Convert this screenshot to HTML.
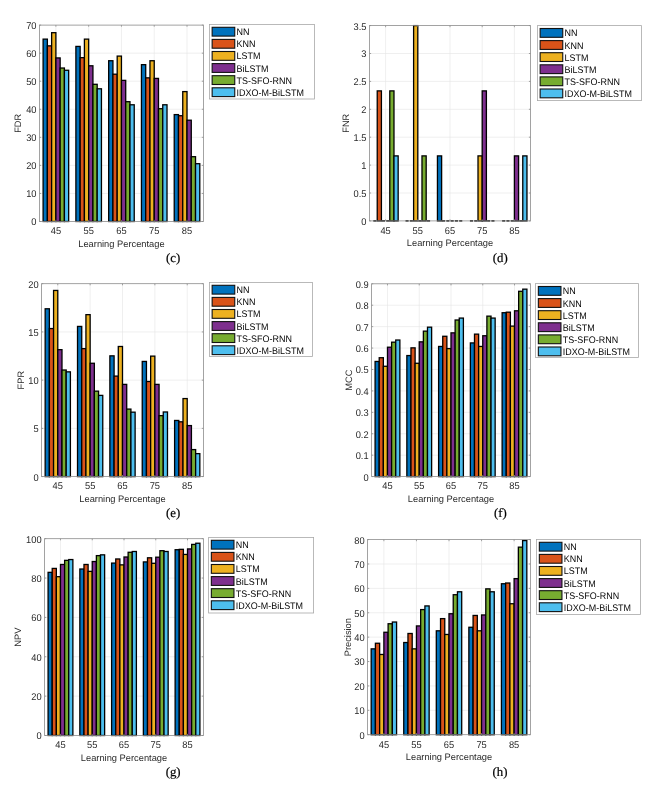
<!DOCTYPE html>
<html><head><meta charset="utf-8"><title>Figure</title>
<style>
html,body{margin:0;padding:0;background:#fff;}
body{width:655px;height:790px;overflow:hidden;}
svg{display:block;filter:blur(0.4px);}
text{text-rendering:geometricPrecision;}
.tk{font-family:"Liberation Sans",sans-serif;font-size:9.8px;fill:#2a2a2a;}
.lab{font-family:"Liberation Sans",sans-serif;font-size:9.3px;fill:#2a2a2a;}
.lg{font-family:"Liberation Sans",sans-serif;font-size:9.6px;fill:#050505;}
.cap{font-family:"Liberation Serif",serif;font-size:12.8px;fill:#000;stroke:#000;stroke-width:0.2px;}
</style></head>
<body>
<svg width="655" height="790" viewBox="0 0 655 790">
<rect width="655" height="790" fill="#fff"/>
<path d="M39.5 193.44H203.4M39.5 165.39H203.4M39.5 137.33H203.4M39.5 109.27H203.4M39.5 81.21H203.4M39.5 53.16H203.4M55.89 25.1V221.5M88.67 25.1V221.5M121.45 25.1V221.5M154.23 25.1V221.5M187.01 25.1V221.5" stroke="#e4e4e4" stroke-width="0.6" fill="none"/>
<rect x="43.11" y="39.13" width="4.26" height="182.37" fill="#0072BD" stroke="#000" stroke-width="1.3"/>
<rect x="47.37" y="45.86" width="4.26" height="175.64" fill="#D95319" stroke="#000" stroke-width="1.3"/>
<rect x="51.63" y="32.68" width="4.26" height="188.82" fill="#EDB120" stroke="#000" stroke-width="1.3"/>
<rect x="55.89" y="57.93" width="4.26" height="163.57" fill="#7E2F8E" stroke="#000" stroke-width="1.3"/>
<rect x="60.15" y="68.03" width="4.26" height="153.47" fill="#77AC30" stroke="#000" stroke-width="1.3"/>
<rect x="64.41" y="70.27" width="4.26" height="151.23" fill="#4DBEEE" stroke="#000" stroke-width="1.3"/>
<rect x="75.89" y="46.42" width="4.26" height="175.08" fill="#0072BD" stroke="#000" stroke-width="1.3"/>
<rect x="80.15" y="57.65" width="4.26" height="163.85" fill="#D95319" stroke="#000" stroke-width="1.3"/>
<rect x="84.41" y="39.13" width="4.26" height="182.37" fill="#EDB120" stroke="#000" stroke-width="1.3"/>
<rect x="88.67" y="65.78" width="4.26" height="155.72" fill="#7E2F8E" stroke="#000" stroke-width="1.3"/>
<rect x="92.93" y="84.3" width="4.26" height="137.2" fill="#77AC30" stroke="#000" stroke-width="1.3"/>
<rect x="97.19" y="88.79" width="4.26" height="132.71" fill="#4DBEEE" stroke="#000" stroke-width="1.3"/>
<rect x="108.67" y="60.73" width="4.26" height="160.77" fill="#0072BD" stroke="#000" stroke-width="1.3"/>
<rect x="112.93" y="74.2" width="4.26" height="147.3" fill="#D95319" stroke="#000" stroke-width="1.3"/>
<rect x="117.19" y="56.1" width="4.26" height="165.4" fill="#EDB120" stroke="#000" stroke-width="1.3"/>
<rect x="121.45" y="80.37" width="4.26" height="141.13" fill="#7E2F8E" stroke="#000" stroke-width="1.3"/>
<rect x="125.71" y="101.7" width="4.26" height="119.8" fill="#77AC30" stroke="#000" stroke-width="1.3"/>
<rect x="129.97" y="104.78" width="4.26" height="116.72" fill="#4DBEEE" stroke="#000" stroke-width="1.3"/>
<rect x="141.45" y="64.66" width="4.26" height="156.84" fill="#0072BD" stroke="#000" stroke-width="1.3"/>
<rect x="145.71" y="77.85" width="4.26" height="143.65" fill="#D95319" stroke="#000" stroke-width="1.3"/>
<rect x="149.97" y="60.73" width="4.26" height="160.77" fill="#EDB120" stroke="#000" stroke-width="1.3"/>
<rect x="154.23" y="78.41" width="4.26" height="143.09" fill="#7E2F8E" stroke="#000" stroke-width="1.3"/>
<rect x="158.49" y="108.71" width="4.26" height="112.79" fill="#77AC30" stroke="#000" stroke-width="1.3"/>
<rect x="162.75" y="104.78" width="4.26" height="116.72" fill="#4DBEEE" stroke="#000" stroke-width="1.3"/>
<rect x="174.23" y="114.6" width="4.26" height="106.9" fill="#0072BD" stroke="#000" stroke-width="1.3"/>
<rect x="178.49" y="115.72" width="4.26" height="105.78" fill="#D95319" stroke="#000" stroke-width="1.3"/>
<rect x="182.75" y="91.6" width="4.26" height="129.9" fill="#EDB120" stroke="#000" stroke-width="1.3"/>
<rect x="187.01" y="120.21" width="4.26" height="101.29" fill="#7E2F8E" stroke="#000" stroke-width="1.3"/>
<rect x="191.27" y="156.69" width="4.26" height="64.81" fill="#77AC30" stroke="#000" stroke-width="1.3"/>
<rect x="195.53" y="163.7" width="4.26" height="57.8" fill="#4DBEEE" stroke="#000" stroke-width="1.3"/>
<rect x="39.5" y="25.1" width="163.9" height="196.4" fill="none" stroke="#8c8c8c" stroke-width="0.8"/>
<path d="M39.5 221.5h1.6M203.4 221.5h-1.6M39.5 193.44h1.6M203.4 193.44h-1.6M39.5 165.39h1.6M203.4 165.39h-1.6M39.5 137.33h1.6M203.4 137.33h-1.6M39.5 109.27h1.6M203.4 109.27h-1.6M39.5 81.21h1.6M203.4 81.21h-1.6M39.5 53.16h1.6M203.4 53.16h-1.6M39.5 25.1h1.6M203.4 25.1h-1.6M55.89 221.5v-1.6M55.89 25.1v1.6M88.67 221.5v-1.6M88.67 25.1v1.6M121.45 221.5v-1.6M121.45 25.1v1.6M154.23 221.5v-1.6M154.23 25.1v1.6M187.01 221.5v-1.6M187.01 25.1v1.6" stroke="#8c8c8c" stroke-width="0.8" fill="none"/>
<text transform="translate(36.5 225.4) scale(0.95 1)" text-anchor="end" class="tk">0</text>
<text transform="translate(36.5 197.34) scale(0.95 1)" text-anchor="end" class="tk">10</text>
<text transform="translate(36.5 169.29) scale(0.95 1)" text-anchor="end" class="tk">20</text>
<text transform="translate(36.5 141.23) scale(0.95 1)" text-anchor="end" class="tk">30</text>
<text transform="translate(36.5 113.17) scale(0.95 1)" text-anchor="end" class="tk">40</text>
<text transform="translate(36.5 85.11) scale(0.95 1)" text-anchor="end" class="tk">50</text>
<text transform="translate(36.5 57.06) scale(0.95 1)" text-anchor="end" class="tk">60</text>
<text transform="translate(36.5 29) scale(0.95 1)" text-anchor="end" class="tk">70</text>
<text transform="translate(55.89 234.3) scale(0.95 1)" text-anchor="middle" class="tk">45</text>
<text transform="translate(88.67 234.3) scale(0.95 1)" text-anchor="middle" class="tk">55</text>
<text transform="translate(121.45 234.3) scale(0.95 1)" text-anchor="middle" class="tk">65</text>
<text transform="translate(154.23 234.3) scale(0.95 1)" text-anchor="middle" class="tk">75</text>
<text transform="translate(187.01 234.3) scale(0.95 1)" text-anchor="middle" class="tk">85</text>
<text x="121.45" y="246.6" text-anchor="middle" class="lab">Learning Percentage</text>
<text transform="translate(21.3 123.3) rotate(-90)" text-anchor="middle" class="lab">FDR</text>
<rect x="209.4" y="24.4" width="105" height="74.6" fill="#fff" stroke="#a8a8a8" stroke-width="0.8"/>
<rect x="212.15" y="27.3" width="22.6" height="8.8" fill="#0072BD" stroke="#111" stroke-width="1.1"/>
<text transform="translate(236.6 35.2) scale(0.935 1)" class="lg">NN</text>
<rect x="212.15" y="39.4" width="22.6" height="8.8" fill="#D95319" stroke="#111" stroke-width="1.1"/>
<text transform="translate(236.6 47.3) scale(0.935 1)" class="lg">KNN</text>
<rect x="212.15" y="51.5" width="22.6" height="8.8" fill="#EDB120" stroke="#111" stroke-width="1.1"/>
<text transform="translate(236.6 59.4) scale(0.935 1)" class="lg">LSTM</text>
<rect x="212.15" y="63.6" width="22.6" height="8.8" fill="#7E2F8E" stroke="#111" stroke-width="1.1"/>
<text transform="translate(236.6 71.5) scale(0.935 1)" class="lg">BiLSTM</text>
<rect x="212.15" y="75.7" width="22.6" height="8.8" fill="#77AC30" stroke="#111" stroke-width="1.1"/>
<text transform="translate(236.6 83.6) scale(0.935 1)" class="lg">TS-SFO-RNN</text>
<rect x="212.15" y="87.8" width="22.6" height="8.8" fill="#4DBEEE" stroke="#111" stroke-width="1.1"/>
<text transform="translate(236.6 95.7) scale(0.935 1)" class="lg">IDXO-M-BiLSTM</text>
<text x="173.1" y="261.8" text-anchor="middle" class="cap">(c)</text>
<path d="M369.5 193H530.5M369.5 165.1H530.5M369.5 137.2H530.5M369.5 109.3H530.5M369.5 81.4H530.5M369.5 53.5H530.5M385.6 25.6V220.9M417.8 25.6V220.9M450 25.6V220.9M482.2 25.6V220.9M514.4 25.6V220.9" stroke="#e4e4e4" stroke-width="0.6" fill="none"/>
<rect x="373.32" y="220.1" width="3.09" height="1.5" fill="#000"/>
<rect x="377.23" y="90.89" width="4.19" height="130.01" fill="#D95319" stroke="#000" stroke-width="1.3"/>
<rect x="381.91" y="220.1" width="3.09" height="1.5" fill="#000"/>
<rect x="386.2" y="220.1" width="3.09" height="1.5" fill="#000"/>
<rect x="389.79" y="90.89" width="4.19" height="130.01" fill="#77AC30" stroke="#000" stroke-width="1.3"/>
<rect x="393.97" y="155.89" width="4.19" height="65.01" fill="#4DBEEE" stroke="#000" stroke-width="1.3"/>
<rect x="405.52" y="220.1" width="3.09" height="1.5" fill="#000"/>
<rect x="409.81" y="220.1" width="3.09" height="1.5" fill="#000"/>
<rect x="413.61" y="25.6" width="4.19" height="195.3" fill="#EDB120" stroke="#000" stroke-width="1.3"/>
<rect x="418.4" y="220.1" width="3.09" height="1.5" fill="#000"/>
<rect x="421.99" y="155.89" width="4.19" height="65.01" fill="#77AC30" stroke="#000" stroke-width="1.3"/>
<rect x="426.99" y="220.1" width="3.09" height="1.5" fill="#000"/>
<rect x="437.44" y="155.89" width="4.19" height="65.01" fill="#0072BD" stroke="#000" stroke-width="1.3"/>
<rect x="442.01" y="220.1" width="3.09" height="1.5" fill="#000"/>
<rect x="446.31" y="220.1" width="3.09" height="1.5" fill="#000"/>
<rect x="450.6" y="220.1" width="3.09" height="1.5" fill="#000"/>
<rect x="454.89" y="220.1" width="3.09" height="1.5" fill="#000"/>
<rect x="459.19" y="220.1" width="3.09" height="1.5" fill="#000"/>
<rect x="469.92" y="220.1" width="3.09" height="1.5" fill="#000"/>
<rect x="474.21" y="220.1" width="3.09" height="1.5" fill="#000"/>
<rect x="478.01" y="155.89" width="4.19" height="65.01" fill="#EDB120" stroke="#000" stroke-width="1.3"/>
<rect x="482.2" y="90.89" width="4.19" height="130.01" fill="#7E2F8E" stroke="#000" stroke-width="1.3"/>
<rect x="487.09" y="220.1" width="3.09" height="1.5" fill="#000"/>
<rect x="491.39" y="220.1" width="3.09" height="1.5" fill="#000"/>
<rect x="502.12" y="220.1" width="3.09" height="1.5" fill="#000"/>
<rect x="506.41" y="220.1" width="3.09" height="1.5" fill="#000"/>
<rect x="510.71" y="220.1" width="3.09" height="1.5" fill="#000"/>
<rect x="514.4" y="155.89" width="4.19" height="65.01" fill="#7E2F8E" stroke="#000" stroke-width="1.3"/>
<rect x="519.29" y="220.1" width="3.09" height="1.5" fill="#000"/>
<rect x="522.77" y="155.89" width="4.19" height="65.01" fill="#4DBEEE" stroke="#000" stroke-width="1.3"/>
<rect x="369.5" y="25.6" width="161" height="195.3" fill="none" stroke="#8c8c8c" stroke-width="0.8"/>
<path d="M369.5 220.9h1.6M530.5 220.9h-1.6M369.5 193h1.6M530.5 193h-1.6M369.5 165.1h1.6M530.5 165.1h-1.6M369.5 137.2h1.6M530.5 137.2h-1.6M369.5 109.3h1.6M530.5 109.3h-1.6M369.5 81.4h1.6M530.5 81.4h-1.6M369.5 53.5h1.6M530.5 53.5h-1.6M369.5 25.6h1.6M530.5 25.6h-1.6M385.6 220.9v-1.6M385.6 25.6v1.6M417.8 220.9v-1.6M417.8 25.6v1.6M450 220.9v-1.6M450 25.6v1.6M482.2 220.9v-1.6M482.2 25.6v1.6M514.4 220.9v-1.6M514.4 25.6v1.6" stroke="#8c8c8c" stroke-width="0.8" fill="none"/>
<text transform="translate(366.5 224.8) scale(0.95 1)" text-anchor="end" class="tk">0</text>
<text transform="translate(366.5 196.9) scale(0.95 1)" text-anchor="end" class="tk">0.5</text>
<text transform="translate(366.5 169) scale(0.95 1)" text-anchor="end" class="tk">1</text>
<text transform="translate(366.5 141.1) scale(0.95 1)" text-anchor="end" class="tk">1.5</text>
<text transform="translate(366.5 113.2) scale(0.95 1)" text-anchor="end" class="tk">2</text>
<text transform="translate(366.5 85.3) scale(0.95 1)" text-anchor="end" class="tk">2.5</text>
<text transform="translate(366.5 57.4) scale(0.95 1)" text-anchor="end" class="tk">3</text>
<text transform="translate(366.5 29.5) scale(0.95 1)" text-anchor="end" class="tk">3.5</text>
<text transform="translate(385.6 233.7) scale(0.95 1)" text-anchor="middle" class="tk">45</text>
<text transform="translate(417.8 233.7) scale(0.95 1)" text-anchor="middle" class="tk">55</text>
<text transform="translate(450 233.7) scale(0.95 1)" text-anchor="middle" class="tk">65</text>
<text transform="translate(482.2 233.7) scale(0.95 1)" text-anchor="middle" class="tk">75</text>
<text transform="translate(514.4 233.7) scale(0.95 1)" text-anchor="middle" class="tk">85</text>
<text x="450" y="246" text-anchor="middle" class="lab">Learning Percentage</text>
<text transform="translate(349 123.25) rotate(-90)" text-anchor="middle" class="lab">FNR</text>
<rect x="537.4" y="25.6" width="104" height="75" fill="#fff" stroke="#a8a8a8" stroke-width="0.8"/>
<rect x="540.15" y="28.5" width="22.6" height="8.8" fill="#0072BD" stroke="#111" stroke-width="1.1"/>
<text transform="translate(564.6 36.4) scale(0.935 1)" class="lg">NN</text>
<rect x="540.15" y="40.6" width="22.6" height="8.8" fill="#D95319" stroke="#111" stroke-width="1.1"/>
<text transform="translate(564.6 48.5) scale(0.935 1)" class="lg">KNN</text>
<rect x="540.15" y="52.7" width="22.6" height="8.8" fill="#EDB120" stroke="#111" stroke-width="1.1"/>
<text transform="translate(564.6 60.6) scale(0.935 1)" class="lg">LSTM</text>
<rect x="540.15" y="64.8" width="22.6" height="8.8" fill="#7E2F8E" stroke="#111" stroke-width="1.1"/>
<text transform="translate(564.6 72.7) scale(0.935 1)" class="lg">BiLSTM</text>
<rect x="540.15" y="76.9" width="22.6" height="8.8" fill="#77AC30" stroke="#111" stroke-width="1.1"/>
<text transform="translate(564.6 84.8) scale(0.935 1)" class="lg">TS-SFO-RNN</text>
<rect x="540.15" y="89" width="22.6" height="8.8" fill="#4DBEEE" stroke="#111" stroke-width="1.1"/>
<text transform="translate(564.6 96.9) scale(0.935 1)" class="lg">IDXO-M-BiLSTM</text>
<text x="500.3" y="261.8" text-anchor="middle" class="cap">(d)</text>
<path d="M41.6 428.38H203.4M41.6 380.15H203.4M41.6 331.93H203.4M57.78 283.7V476.6M90.14 283.7V476.6M122.5 283.7V476.6M154.86 283.7V476.6M187.22 283.7V476.6" stroke="#e4e4e4" stroke-width="0.6" fill="none"/>
<rect x="45.16" y="308.78" width="4.21" height="167.82" fill="#0072BD" stroke="#000" stroke-width="1.3"/>
<rect x="49.37" y="328.55" width="4.21" height="148.05" fill="#D95319" stroke="#000" stroke-width="1.3"/>
<rect x="53.57" y="290.45" width="4.21" height="186.15" fill="#EDB120" stroke="#000" stroke-width="1.3"/>
<rect x="57.78" y="349.67" width="4.21" height="126.93" fill="#7E2F8E" stroke="#000" stroke-width="1.3"/>
<rect x="61.99" y="370.02" width="4.21" height="106.58" fill="#77AC30" stroke="#000" stroke-width="1.3"/>
<rect x="66.19" y="371.86" width="4.21" height="104.74" fill="#4DBEEE" stroke="#000" stroke-width="1.3"/>
<rect x="77.52" y="326.43" width="4.21" height="150.17" fill="#0072BD" stroke="#000" stroke-width="1.3"/>
<rect x="81.73" y="348.61" width="4.21" height="127.99" fill="#D95319" stroke="#000" stroke-width="1.3"/>
<rect x="85.93" y="314.66" width="4.21" height="161.94" fill="#EDB120" stroke="#000" stroke-width="1.3"/>
<rect x="90.14" y="363.27" width="4.21" height="113.33" fill="#7E2F8E" stroke="#000" stroke-width="1.3"/>
<rect x="94.35" y="391.15" width="4.21" height="85.45" fill="#77AC30" stroke="#000" stroke-width="1.3"/>
<rect x="98.55" y="395.39" width="4.21" height="81.21" fill="#4DBEEE" stroke="#000" stroke-width="1.3"/>
<rect x="109.88" y="355.84" width="4.21" height="120.76" fill="#0072BD" stroke="#000" stroke-width="1.3"/>
<rect x="114.09" y="376.1" width="4.21" height="100.5" fill="#D95319" stroke="#000" stroke-width="1.3"/>
<rect x="118.29" y="346.49" width="4.21" height="130.11" fill="#EDB120" stroke="#000" stroke-width="1.3"/>
<rect x="122.5" y="384.39" width="4.21" height="92.21" fill="#7E2F8E" stroke="#000" stroke-width="1.3"/>
<rect x="126.71" y="409.09" width="4.21" height="67.51" fill="#77AC30" stroke="#000" stroke-width="1.3"/>
<rect x="130.91" y="412.17" width="4.21" height="64.43" fill="#4DBEEE" stroke="#000" stroke-width="1.3"/>
<rect x="142.24" y="361.44" width="4.21" height="115.16" fill="#0072BD" stroke="#000" stroke-width="1.3"/>
<rect x="146.45" y="381.5" width="4.21" height="95.1" fill="#D95319" stroke="#000" stroke-width="1.3"/>
<rect x="150.65" y="356.13" width="4.21" height="120.47" fill="#EDB120" stroke="#000" stroke-width="1.3"/>
<rect x="154.86" y="384.39" width="4.21" height="92.21" fill="#7E2F8E" stroke="#000" stroke-width="1.3"/>
<rect x="159.07" y="415.64" width="4.21" height="60.96" fill="#77AC30" stroke="#000" stroke-width="1.3"/>
<rect x="163.27" y="411.98" width="4.21" height="64.62" fill="#4DBEEE" stroke="#000" stroke-width="1.3"/>
<rect x="174.6" y="420.47" width="4.21" height="56.13" fill="#0072BD" stroke="#000" stroke-width="1.3"/>
<rect x="178.81" y="421.82" width="4.21" height="54.78" fill="#D95319" stroke="#000" stroke-width="1.3"/>
<rect x="183.01" y="398.57" width="4.21" height="78.03" fill="#EDB120" stroke="#000" stroke-width="1.3"/>
<rect x="187.22" y="425.58" width="4.21" height="51.02" fill="#7E2F8E" stroke="#000" stroke-width="1.3"/>
<rect x="191.43" y="449.59" width="4.21" height="27.01" fill="#77AC30" stroke="#000" stroke-width="1.3"/>
<rect x="195.63" y="453.64" width="4.21" height="22.96" fill="#4DBEEE" stroke="#000" stroke-width="1.3"/>
<rect x="41.6" y="283.7" width="161.8" height="192.9" fill="none" stroke="#8c8c8c" stroke-width="0.8"/>
<path d="M41.6 476.6h1.6M203.4 476.6h-1.6M41.6 428.38h1.6M203.4 428.38h-1.6M41.6 380.15h1.6M203.4 380.15h-1.6M41.6 331.93h1.6M203.4 331.93h-1.6M41.6 283.7h1.6M203.4 283.7h-1.6M57.78 476.6v-1.6M57.78 283.7v1.6M90.14 476.6v-1.6M90.14 283.7v1.6M122.5 476.6v-1.6M122.5 283.7v1.6M154.86 476.6v-1.6M154.86 283.7v1.6M187.22 476.6v-1.6M187.22 283.7v1.6" stroke="#8c8c8c" stroke-width="0.8" fill="none"/>
<text transform="translate(38.6 480.5) scale(0.95 1)" text-anchor="end" class="tk">0</text>
<text transform="translate(38.6 432.27) scale(0.95 1)" text-anchor="end" class="tk">5</text>
<text transform="translate(38.6 384.05) scale(0.95 1)" text-anchor="end" class="tk">10</text>
<text transform="translate(38.6 335.82) scale(0.95 1)" text-anchor="end" class="tk">15</text>
<text transform="translate(38.6 287.6) scale(0.95 1)" text-anchor="end" class="tk">20</text>
<text transform="translate(57.78 489.4) scale(0.95 1)" text-anchor="middle" class="tk">45</text>
<text transform="translate(90.14 489.4) scale(0.95 1)" text-anchor="middle" class="tk">55</text>
<text transform="translate(122.5 489.4) scale(0.95 1)" text-anchor="middle" class="tk">65</text>
<text transform="translate(154.86 489.4) scale(0.95 1)" text-anchor="middle" class="tk">75</text>
<text transform="translate(187.22 489.4) scale(0.95 1)" text-anchor="middle" class="tk">85</text>
<text x="122.5" y="501.7" text-anchor="middle" class="lab">Learning Percentage</text>
<text transform="translate(24.2 380.15) rotate(-90)" text-anchor="middle" class="lab">FPR</text>
<rect x="209.4" y="282.4" width="103" height="74.2" fill="#fff" stroke="#a8a8a8" stroke-width="0.8"/>
<rect x="212.15" y="285.3" width="22.6" height="8.8" fill="#0072BD" stroke="#111" stroke-width="1.1"/>
<text transform="translate(236.6 293.2) scale(0.935 1)" class="lg">NN</text>
<rect x="212.15" y="297.4" width="22.6" height="8.8" fill="#D95319" stroke="#111" stroke-width="1.1"/>
<text transform="translate(236.6 305.3) scale(0.935 1)" class="lg">KNN</text>
<rect x="212.15" y="309.5" width="22.6" height="8.8" fill="#EDB120" stroke="#111" stroke-width="1.1"/>
<text transform="translate(236.6 317.4) scale(0.935 1)" class="lg">LSTM</text>
<rect x="212.15" y="321.6" width="22.6" height="8.8" fill="#7E2F8E" stroke="#111" stroke-width="1.1"/>
<text transform="translate(236.6 329.5) scale(0.935 1)" class="lg">BiLSTM</text>
<rect x="212.15" y="333.7" width="22.6" height="8.8" fill="#77AC30" stroke="#111" stroke-width="1.1"/>
<text transform="translate(236.6 341.6) scale(0.935 1)" class="lg">TS-SFO-RNN</text>
<rect x="212.15" y="345.8" width="22.6" height="8.8" fill="#4DBEEE" stroke="#111" stroke-width="1.1"/>
<text transform="translate(236.6 353.7) scale(0.935 1)" class="lg">IDXO-M-BiLSTM</text>
<text x="173.1" y="517.1" text-anchor="middle" class="cap">(e)</text>
<path d="M371.6 455.18H530.4M371.6 433.76H530.4M371.6 412.33H530.4M371.6 390.91H530.4M371.6 369.49H530.4M371.6 348.07H530.4M371.6 326.64H530.4M371.6 305.22H530.4M387.48 283.8V476.6M419.24 283.8V476.6M451 283.8V476.6M482.76 283.8V476.6M514.52 283.8V476.6" stroke="#e4e4e4" stroke-width="0.6" fill="none"/>
<rect x="375.09" y="361.46" width="4.13" height="115.14" fill="#0072BD" stroke="#000" stroke-width="1.3"/>
<rect x="379.22" y="357.71" width="4.13" height="118.89" fill="#D95319" stroke="#000" stroke-width="1.3"/>
<rect x="383.35" y="366.28" width="4.13" height="110.32" fill="#EDB120" stroke="#000" stroke-width="1.3"/>
<rect x="387.48" y="347.21" width="4.13" height="129.39" fill="#7E2F8E" stroke="#000" stroke-width="1.3"/>
<rect x="391.61" y="342.18" width="4.13" height="134.42" fill="#77AC30" stroke="#000" stroke-width="1.3"/>
<rect x="395.74" y="340.03" width="4.13" height="136.57" fill="#4DBEEE" stroke="#000" stroke-width="1.3"/>
<rect x="406.85" y="355.56" width="4.13" height="121.04" fill="#0072BD" stroke="#000" stroke-width="1.3"/>
<rect x="410.98" y="347.85" width="4.13" height="128.75" fill="#D95319" stroke="#000" stroke-width="1.3"/>
<rect x="415.11" y="363.28" width="4.13" height="113.32" fill="#EDB120" stroke="#000" stroke-width="1.3"/>
<rect x="419.24" y="341.85" width="4.13" height="134.75" fill="#7E2F8E" stroke="#000" stroke-width="1.3"/>
<rect x="423.37" y="331.14" width="4.13" height="145.46" fill="#77AC30" stroke="#000" stroke-width="1.3"/>
<rect x="427.5" y="327.18" width="4.13" height="149.42" fill="#4DBEEE" stroke="#000" stroke-width="1.3"/>
<rect x="438.61" y="346.46" width="4.13" height="130.14" fill="#0072BD" stroke="#000" stroke-width="1.3"/>
<rect x="442.74" y="336.28" width="4.13" height="140.32" fill="#D95319" stroke="#000" stroke-width="1.3"/>
<rect x="446.87" y="348.6" width="4.13" height="128" fill="#EDB120" stroke="#000" stroke-width="1.3"/>
<rect x="451" y="332.86" width="4.13" height="143.74" fill="#7E2F8E" stroke="#000" stroke-width="1.3"/>
<rect x="455.13" y="320" width="4.13" height="156.6" fill="#77AC30" stroke="#000" stroke-width="1.3"/>
<rect x="459.26" y="318.08" width="4.13" height="158.52" fill="#4DBEEE" stroke="#000" stroke-width="1.3"/>
<rect x="470.37" y="342.93" width="4.13" height="133.67" fill="#0072BD" stroke="#000" stroke-width="1.3"/>
<rect x="474.5" y="334.14" width="4.13" height="142.46" fill="#D95319" stroke="#000" stroke-width="1.3"/>
<rect x="478.63" y="346.46" width="4.13" height="130.14" fill="#EDB120" stroke="#000" stroke-width="1.3"/>
<rect x="482.76" y="335.75" width="4.13" height="140.85" fill="#7E2F8E" stroke="#000" stroke-width="1.3"/>
<rect x="486.89" y="316.15" width="4.13" height="160.45" fill="#77AC30" stroke="#000" stroke-width="1.3"/>
<rect x="491.02" y="318.08" width="4.13" height="158.52" fill="#4DBEEE" stroke="#000" stroke-width="1.3"/>
<rect x="502.13" y="312.72" width="4.13" height="163.88" fill="#0072BD" stroke="#000" stroke-width="1.3"/>
<rect x="506.26" y="312.18" width="4.13" height="164.42" fill="#D95319" stroke="#000" stroke-width="1.3"/>
<rect x="510.39" y="326.11" width="4.13" height="150.49" fill="#EDB120" stroke="#000" stroke-width="1.3"/>
<rect x="514.52" y="310.79" width="4.13" height="165.81" fill="#7E2F8E" stroke="#000" stroke-width="1.3"/>
<rect x="518.65" y="291.3" width="4.13" height="185.3" fill="#77AC30" stroke="#000" stroke-width="1.3"/>
<rect x="522.78" y="289.16" width="4.13" height="187.44" fill="#4DBEEE" stroke="#000" stroke-width="1.3"/>
<rect x="371.6" y="283.8" width="158.8" height="192.8" fill="none" stroke="#8c8c8c" stroke-width="0.8"/>
<path d="M371.6 476.6h1.6M530.4 476.6h-1.6M371.6 455.18h1.6M530.4 455.18h-1.6M371.6 433.76h1.6M530.4 433.76h-1.6M371.6 412.33h1.6M530.4 412.33h-1.6M371.6 390.91h1.6M530.4 390.91h-1.6M371.6 369.49h1.6M530.4 369.49h-1.6M371.6 348.07h1.6M530.4 348.07h-1.6M371.6 326.64h1.6M530.4 326.64h-1.6M371.6 305.22h1.6M530.4 305.22h-1.6M371.6 283.8h1.6M530.4 283.8h-1.6M387.48 476.6v-1.6M387.48 283.8v1.6M419.24 476.6v-1.6M419.24 283.8v1.6M451 476.6v-1.6M451 283.8v1.6M482.76 476.6v-1.6M482.76 283.8v1.6M514.52 476.6v-1.6M514.52 283.8v1.6" stroke="#8c8c8c" stroke-width="0.8" fill="none"/>
<text transform="translate(368.6 480.5) scale(0.95 1)" text-anchor="end" class="tk">0</text>
<text transform="translate(368.6 459.08) scale(0.95 1)" text-anchor="end" class="tk">0.1</text>
<text transform="translate(368.6 437.66) scale(0.95 1)" text-anchor="end" class="tk">0.2</text>
<text transform="translate(368.6 416.23) scale(0.95 1)" text-anchor="end" class="tk">0.3</text>
<text transform="translate(368.6 394.81) scale(0.95 1)" text-anchor="end" class="tk">0.4</text>
<text transform="translate(368.6 373.39) scale(0.95 1)" text-anchor="end" class="tk">0.5</text>
<text transform="translate(368.6 351.97) scale(0.95 1)" text-anchor="end" class="tk">0.6</text>
<text transform="translate(368.6 330.54) scale(0.95 1)" text-anchor="end" class="tk">0.7</text>
<text transform="translate(368.6 309.12) scale(0.95 1)" text-anchor="end" class="tk">0.8</text>
<text transform="translate(368.6 287.7) scale(0.95 1)" text-anchor="end" class="tk">0.9</text>
<text transform="translate(387.48 489.4) scale(0.95 1)" text-anchor="middle" class="tk">45</text>
<text transform="translate(419.24 489.4) scale(0.95 1)" text-anchor="middle" class="tk">55</text>
<text transform="translate(451 489.4) scale(0.95 1)" text-anchor="middle" class="tk">65</text>
<text transform="translate(482.76 489.4) scale(0.95 1)" text-anchor="middle" class="tk">75</text>
<text transform="translate(514.52 489.4) scale(0.95 1)" text-anchor="middle" class="tk">85</text>
<text x="451" y="501.7" text-anchor="middle" class="lab">Learning Percentage</text>
<text transform="translate(352.3 380.2) rotate(-90)" text-anchor="middle" class="lab">MCC</text>
<rect x="535.6" y="283.6" width="103" height="73.8" fill="#fff" stroke="#a8a8a8" stroke-width="0.8"/>
<rect x="538.35" y="286.5" width="22.6" height="8.8" fill="#0072BD" stroke="#111" stroke-width="1.1"/>
<text transform="translate(562.8 294.4) scale(0.935 1)" class="lg">NN</text>
<rect x="538.35" y="298.6" width="22.6" height="8.8" fill="#D95319" stroke="#111" stroke-width="1.1"/>
<text transform="translate(562.8 306.5) scale(0.935 1)" class="lg">KNN</text>
<rect x="538.35" y="310.7" width="22.6" height="8.8" fill="#EDB120" stroke="#111" stroke-width="1.1"/>
<text transform="translate(562.8 318.6) scale(0.935 1)" class="lg">LSTM</text>
<rect x="538.35" y="322.8" width="22.6" height="8.8" fill="#7E2F8E" stroke="#111" stroke-width="1.1"/>
<text transform="translate(562.8 330.7) scale(0.935 1)" class="lg">BiLSTM</text>
<rect x="538.35" y="334.9" width="22.6" height="8.8" fill="#77AC30" stroke="#111" stroke-width="1.1"/>
<text transform="translate(562.8 342.8) scale(0.935 1)" class="lg">TS-SFO-RNN</text>
<rect x="538.35" y="347" width="22.6" height="8.8" fill="#4DBEEE" stroke="#111" stroke-width="1.1"/>
<text transform="translate(562.8 354.9) scale(0.935 1)" class="lg">IDXO-M-BiLSTM</text>
<text x="500.5" y="517.1" text-anchor="middle" class="cap">(f)</text>
<path d="M44.6 696.14H203.4M44.6 656.78H203.4M44.6 617.42H203.4M44.6 578.06H203.4M60.48 538.7V735.5M92.24 538.7V735.5M124 538.7V735.5M155.76 538.7V735.5M187.52 538.7V735.5" stroke="#e4e4e4" stroke-width="0.6" fill="none"/>
<rect x="48.09" y="572.35" width="4.13" height="163.15" fill="#0072BD" stroke="#000" stroke-width="1.3"/>
<rect x="52.22" y="568.42" width="4.13" height="167.08" fill="#D95319" stroke="#000" stroke-width="1.3"/>
<rect x="56.35" y="576.68" width="4.13" height="158.82" fill="#EDB120" stroke="#000" stroke-width="1.3"/>
<rect x="60.48" y="564.48" width="4.13" height="171.02" fill="#7E2F8E" stroke="#000" stroke-width="1.3"/>
<rect x="64.61" y="560.35" width="4.13" height="175.15" fill="#77AC30" stroke="#000" stroke-width="1.3"/>
<rect x="68.74" y="559.56" width="4.13" height="175.94" fill="#4DBEEE" stroke="#000" stroke-width="1.3"/>
<rect x="79.85" y="569.01" width="4.13" height="166.49" fill="#0072BD" stroke="#000" stroke-width="1.3"/>
<rect x="83.98" y="564.48" width="4.13" height="171.02" fill="#D95319" stroke="#000" stroke-width="1.3"/>
<rect x="88.11" y="571.37" width="4.13" height="164.13" fill="#EDB120" stroke="#000" stroke-width="1.3"/>
<rect x="92.24" y="561.53" width="4.13" height="173.97" fill="#7E2F8E" stroke="#000" stroke-width="1.3"/>
<rect x="96.37" y="555.62" width="4.13" height="179.88" fill="#77AC30" stroke="#000" stroke-width="1.3"/>
<rect x="100.5" y="554.84" width="4.13" height="180.66" fill="#4DBEEE" stroke="#000" stroke-width="1.3"/>
<rect x="111.61" y="563.1" width="4.13" height="172.4" fill="#0072BD" stroke="#000" stroke-width="1.3"/>
<rect x="115.74" y="558.97" width="4.13" height="176.53" fill="#D95319" stroke="#000" stroke-width="1.3"/>
<rect x="119.87" y="564.87" width="4.13" height="170.63" fill="#EDB120" stroke="#000" stroke-width="1.3"/>
<rect x="124" y="557" width="4.13" height="178.5" fill="#7E2F8E" stroke="#000" stroke-width="1.3"/>
<rect x="128.13" y="552.28" width="4.13" height="183.22" fill="#77AC30" stroke="#000" stroke-width="1.3"/>
<rect x="132.26" y="551.49" width="4.13" height="184.01" fill="#4DBEEE" stroke="#000" stroke-width="1.3"/>
<rect x="143.37" y="561.92" width="4.13" height="173.58" fill="#0072BD" stroke="#000" stroke-width="1.3"/>
<rect x="147.5" y="557.79" width="4.13" height="177.71" fill="#D95319" stroke="#000" stroke-width="1.3"/>
<rect x="151.63" y="563.3" width="4.13" height="172.2" fill="#EDB120" stroke="#000" stroke-width="1.3"/>
<rect x="155.76" y="557.2" width="4.13" height="178.3" fill="#7E2F8E" stroke="#000" stroke-width="1.3"/>
<rect x="159.89" y="550.7" width="4.13" height="184.8" fill="#77AC30" stroke="#000" stroke-width="1.3"/>
<rect x="164.02" y="551.49" width="4.13" height="184.01" fill="#4DBEEE" stroke="#000" stroke-width="1.3"/>
<rect x="175.13" y="549.72" width="4.13" height="185.78" fill="#0072BD" stroke="#000" stroke-width="1.3"/>
<rect x="179.26" y="549.33" width="4.13" height="186.17" fill="#D95319" stroke="#000" stroke-width="1.3"/>
<rect x="183.39" y="554.44" width="4.13" height="181.06" fill="#EDB120" stroke="#000" stroke-width="1.3"/>
<rect x="187.52" y="548.93" width="4.13" height="186.57" fill="#7E2F8E" stroke="#000" stroke-width="1.3"/>
<rect x="191.65" y="544.41" width="4.13" height="191.09" fill="#77AC30" stroke="#000" stroke-width="1.3"/>
<rect x="195.78" y="543.23" width="4.13" height="192.27" fill="#4DBEEE" stroke="#000" stroke-width="1.3"/>
<rect x="44.6" y="538.7" width="158.8" height="196.8" fill="none" stroke="#8c8c8c" stroke-width="0.8"/>
<path d="M44.6 735.5h1.6M203.4 735.5h-1.6M44.6 696.14h1.6M203.4 696.14h-1.6M44.6 656.78h1.6M203.4 656.78h-1.6M44.6 617.42h1.6M203.4 617.42h-1.6M44.6 578.06h1.6M203.4 578.06h-1.6M44.6 538.7h1.6M203.4 538.7h-1.6M60.48 735.5v-1.6M60.48 538.7v1.6M92.24 735.5v-1.6M92.24 538.7v1.6M124 735.5v-1.6M124 538.7v1.6M155.76 735.5v-1.6M155.76 538.7v1.6M187.52 735.5v-1.6M187.52 538.7v1.6" stroke="#8c8c8c" stroke-width="0.8" fill="none"/>
<text transform="translate(41.6 739.4) scale(0.95 1)" text-anchor="end" class="tk">0</text>
<text transform="translate(41.6 700.04) scale(0.95 1)" text-anchor="end" class="tk">20</text>
<text transform="translate(41.6 660.68) scale(0.95 1)" text-anchor="end" class="tk">40</text>
<text transform="translate(41.6 621.32) scale(0.95 1)" text-anchor="end" class="tk">60</text>
<text transform="translate(41.6 581.96) scale(0.95 1)" text-anchor="end" class="tk">80</text>
<text transform="translate(41.6 542.6) scale(0.95 1)" text-anchor="end" class="tk">100</text>
<text transform="translate(60.48 748.3) scale(0.95 1)" text-anchor="middle" class="tk">45</text>
<text transform="translate(92.24 748.3) scale(0.95 1)" text-anchor="middle" class="tk">55</text>
<text transform="translate(124 748.3) scale(0.95 1)" text-anchor="middle" class="tk">65</text>
<text transform="translate(155.76 748.3) scale(0.95 1)" text-anchor="middle" class="tk">75</text>
<text transform="translate(187.52 748.3) scale(0.95 1)" text-anchor="middle" class="tk">85</text>
<text x="124" y="760.6" text-anchor="middle" class="lab">Learning Percentage</text>
<text transform="translate(21.3 637.1) rotate(-90)" text-anchor="middle" class="lab">NPV</text>
<rect x="208.6" y="537.4" width="105" height="75.6" fill="#fff" stroke="#a8a8a8" stroke-width="0.8"/>
<rect x="211.35" y="540.3" width="22.6" height="8.8" fill="#0072BD" stroke="#111" stroke-width="1.1"/>
<text transform="translate(235.8 548.2) scale(0.935 1)" class="lg">NN</text>
<rect x="211.35" y="552.4" width="22.6" height="8.8" fill="#D95319" stroke="#111" stroke-width="1.1"/>
<text transform="translate(235.8 560.3) scale(0.935 1)" class="lg">KNN</text>
<rect x="211.35" y="564.5" width="22.6" height="8.8" fill="#EDB120" stroke="#111" stroke-width="1.1"/>
<text transform="translate(235.8 572.4) scale(0.935 1)" class="lg">LSTM</text>
<rect x="211.35" y="576.6" width="22.6" height="8.8" fill="#7E2F8E" stroke="#111" stroke-width="1.1"/>
<text transform="translate(235.8 584.5) scale(0.935 1)" class="lg">BiLSTM</text>
<rect x="211.35" y="588.7" width="22.6" height="8.8" fill="#77AC30" stroke="#111" stroke-width="1.1"/>
<text transform="translate(235.8 596.6) scale(0.935 1)" class="lg">TS-SFO-RNN</text>
<rect x="211.35" y="600.8" width="22.6" height="8.8" fill="#4DBEEE" stroke="#111" stroke-width="1.1"/>
<text transform="translate(235.8 608.7) scale(0.935 1)" class="lg">IDXO-M-BiLSTM</text>
<text x="173.1" y="776.4" text-anchor="middle" class="cap">(g)</text>
<path d="M367.6 710.31H530.4M367.6 685.93H530.4M367.6 661.54H530.4M367.6 637.15H530.4M367.6 612.76H530.4M367.6 588.38H530.4M367.6 563.99H530.4M383.88 539.6V734.7M416.44 539.6V734.7M449 539.6V734.7M481.56 539.6V734.7M514.12 539.6V734.7" stroke="#e4e4e4" stroke-width="0.6" fill="none"/>
<rect x="371.18" y="648.86" width="4.23" height="85.84" fill="#0072BD" stroke="#000" stroke-width="1.3"/>
<rect x="375.41" y="643.25" width="4.23" height="91.45" fill="#D95319" stroke="#000" stroke-width="1.3"/>
<rect x="379.65" y="654.47" width="4.23" height="80.23" fill="#EDB120" stroke="#000" stroke-width="1.3"/>
<rect x="383.88" y="632.27" width="4.23" height="102.43" fill="#7E2F8E" stroke="#000" stroke-width="1.3"/>
<rect x="388.11" y="623.74" width="4.23" height="110.96" fill="#77AC30" stroke="#000" stroke-width="1.3"/>
<rect x="392.35" y="622.03" width="4.23" height="112.67" fill="#4DBEEE" stroke="#000" stroke-width="1.3"/>
<rect x="403.74" y="642.52" width="4.23" height="92.18" fill="#0072BD" stroke="#000" stroke-width="1.3"/>
<rect x="407.97" y="633.49" width="4.23" height="101.21" fill="#D95319" stroke="#000" stroke-width="1.3"/>
<rect x="412.21" y="648.86" width="4.23" height="85.84" fill="#EDB120" stroke="#000" stroke-width="1.3"/>
<rect x="416.44" y="625.93" width="4.23" height="108.77" fill="#7E2F8E" stroke="#000" stroke-width="1.3"/>
<rect x="420.67" y="609.59" width="4.23" height="125.11" fill="#77AC30" stroke="#000" stroke-width="1.3"/>
<rect x="424.91" y="605.93" width="4.23" height="128.77" fill="#4DBEEE" stroke="#000" stroke-width="1.3"/>
<rect x="436.3" y="630.81" width="4.23" height="103.89" fill="#0072BD" stroke="#000" stroke-width="1.3"/>
<rect x="440.53" y="618.62" width="4.23" height="116.08" fill="#D95319" stroke="#000" stroke-width="1.3"/>
<rect x="444.77" y="634.47" width="4.23" height="100.23" fill="#EDB120" stroke="#000" stroke-width="1.3"/>
<rect x="449" y="613.74" width="4.23" height="120.96" fill="#7E2F8E" stroke="#000" stroke-width="1.3"/>
<rect x="453.23" y="594.72" width="4.23" height="139.98" fill="#77AC30" stroke="#000" stroke-width="1.3"/>
<rect x="457.47" y="591.79" width="4.23" height="142.91" fill="#4DBEEE" stroke="#000" stroke-width="1.3"/>
<rect x="468.86" y="627.27" width="4.23" height="107.43" fill="#0072BD" stroke="#000" stroke-width="1.3"/>
<rect x="473.09" y="615.45" width="4.23" height="119.25" fill="#D95319" stroke="#000" stroke-width="1.3"/>
<rect x="477.33" y="630.81" width="4.23" height="103.89" fill="#EDB120" stroke="#000" stroke-width="1.3"/>
<rect x="481.56" y="614.96" width="4.23" height="119.74" fill="#7E2F8E" stroke="#000" stroke-width="1.3"/>
<rect x="485.79" y="588.86" width="4.23" height="145.84" fill="#77AC30" stroke="#000" stroke-width="1.3"/>
<rect x="490.03" y="591.79" width="4.23" height="142.91" fill="#4DBEEE" stroke="#000" stroke-width="1.3"/>
<rect x="501.42" y="583.74" width="4.23" height="150.96" fill="#0072BD" stroke="#000" stroke-width="1.3"/>
<rect x="505.65" y="583.01" width="4.23" height="151.69" fill="#D95319" stroke="#000" stroke-width="1.3"/>
<rect x="509.89" y="603.74" width="4.23" height="130.96" fill="#EDB120" stroke="#000" stroke-width="1.3"/>
<rect x="514.12" y="578.62" width="4.23" height="156.08" fill="#7E2F8E" stroke="#000" stroke-width="1.3"/>
<rect x="518.35" y="547.16" width="4.23" height="187.54" fill="#77AC30" stroke="#000" stroke-width="1.3"/>
<rect x="522.59" y="540.58" width="4.23" height="194.12" fill="#4DBEEE" stroke="#000" stroke-width="1.3"/>
<rect x="367.6" y="539.6" width="162.8" height="195.1" fill="none" stroke="#8c8c8c" stroke-width="0.8"/>
<path d="M367.6 734.7h1.6M530.4 734.7h-1.6M367.6 710.31h1.6M530.4 710.31h-1.6M367.6 685.93h1.6M530.4 685.93h-1.6M367.6 661.54h1.6M530.4 661.54h-1.6M367.6 637.15h1.6M530.4 637.15h-1.6M367.6 612.76h1.6M530.4 612.76h-1.6M367.6 588.38h1.6M530.4 588.38h-1.6M367.6 563.99h1.6M530.4 563.99h-1.6M367.6 539.6h1.6M530.4 539.6h-1.6M383.88 734.7v-1.6M383.88 539.6v1.6M416.44 734.7v-1.6M416.44 539.6v1.6M449 734.7v-1.6M449 539.6v1.6M481.56 734.7v-1.6M481.56 539.6v1.6M514.12 734.7v-1.6M514.12 539.6v1.6" stroke="#8c8c8c" stroke-width="0.8" fill="none"/>
<text transform="translate(364.6 738.6) scale(0.95 1)" text-anchor="end" class="tk">0</text>
<text transform="translate(364.6 714.21) scale(0.95 1)" text-anchor="end" class="tk">10</text>
<text transform="translate(364.6 689.83) scale(0.95 1)" text-anchor="end" class="tk">20</text>
<text transform="translate(364.6 665.44) scale(0.95 1)" text-anchor="end" class="tk">30</text>
<text transform="translate(364.6 641.05) scale(0.95 1)" text-anchor="end" class="tk">40</text>
<text transform="translate(364.6 616.66) scale(0.95 1)" text-anchor="end" class="tk">50</text>
<text transform="translate(364.6 592.27) scale(0.95 1)" text-anchor="end" class="tk">60</text>
<text transform="translate(364.6 567.89) scale(0.95 1)" text-anchor="end" class="tk">70</text>
<text transform="translate(364.6 543.5) scale(0.95 1)" text-anchor="end" class="tk">80</text>
<text transform="translate(383.88 747.5) scale(0.95 1)" text-anchor="middle" class="tk">45</text>
<text transform="translate(416.44 747.5) scale(0.95 1)" text-anchor="middle" class="tk">55</text>
<text transform="translate(449 747.5) scale(0.95 1)" text-anchor="middle" class="tk">65</text>
<text transform="translate(481.56 747.5) scale(0.95 1)" text-anchor="middle" class="tk">75</text>
<text transform="translate(514.12 747.5) scale(0.95 1)" text-anchor="middle" class="tk">85</text>
<text x="449" y="759.8" text-anchor="middle" class="lab">Learning Percentage</text>
<text transform="translate(350.6 637.15) rotate(-90)" text-anchor="middle" class="lab">Precision</text>
<rect x="536.6" y="539.4" width="104" height="75" fill="#fff" stroke="#a8a8a8" stroke-width="0.8"/>
<rect x="539.35" y="542.3" width="22.6" height="8.8" fill="#0072BD" stroke="#111" stroke-width="1.1"/>
<text transform="translate(563.8 550.2) scale(0.935 1)" class="lg">NN</text>
<rect x="539.35" y="554.4" width="22.6" height="8.8" fill="#D95319" stroke="#111" stroke-width="1.1"/>
<text transform="translate(563.8 562.3) scale(0.935 1)" class="lg">KNN</text>
<rect x="539.35" y="566.5" width="22.6" height="8.8" fill="#EDB120" stroke="#111" stroke-width="1.1"/>
<text transform="translate(563.8 574.4) scale(0.935 1)" class="lg">LSTM</text>
<rect x="539.35" y="578.6" width="22.6" height="8.8" fill="#7E2F8E" stroke="#111" stroke-width="1.1"/>
<text transform="translate(563.8 586.5) scale(0.935 1)" class="lg">BiLSTM</text>
<rect x="539.35" y="590.7" width="22.6" height="8.8" fill="#77AC30" stroke="#111" stroke-width="1.1"/>
<text transform="translate(563.8 598.6) scale(0.935 1)" class="lg">TS-SFO-RNN</text>
<rect x="539.35" y="602.8" width="22.6" height="8.8" fill="#4DBEEE" stroke="#111" stroke-width="1.1"/>
<text transform="translate(563.8 610.7) scale(0.935 1)" class="lg">IDXO-M-BiLSTM</text>
<text x="500" y="776.4" text-anchor="middle" class="cap">(h)</text>
</svg>
</body></html>
